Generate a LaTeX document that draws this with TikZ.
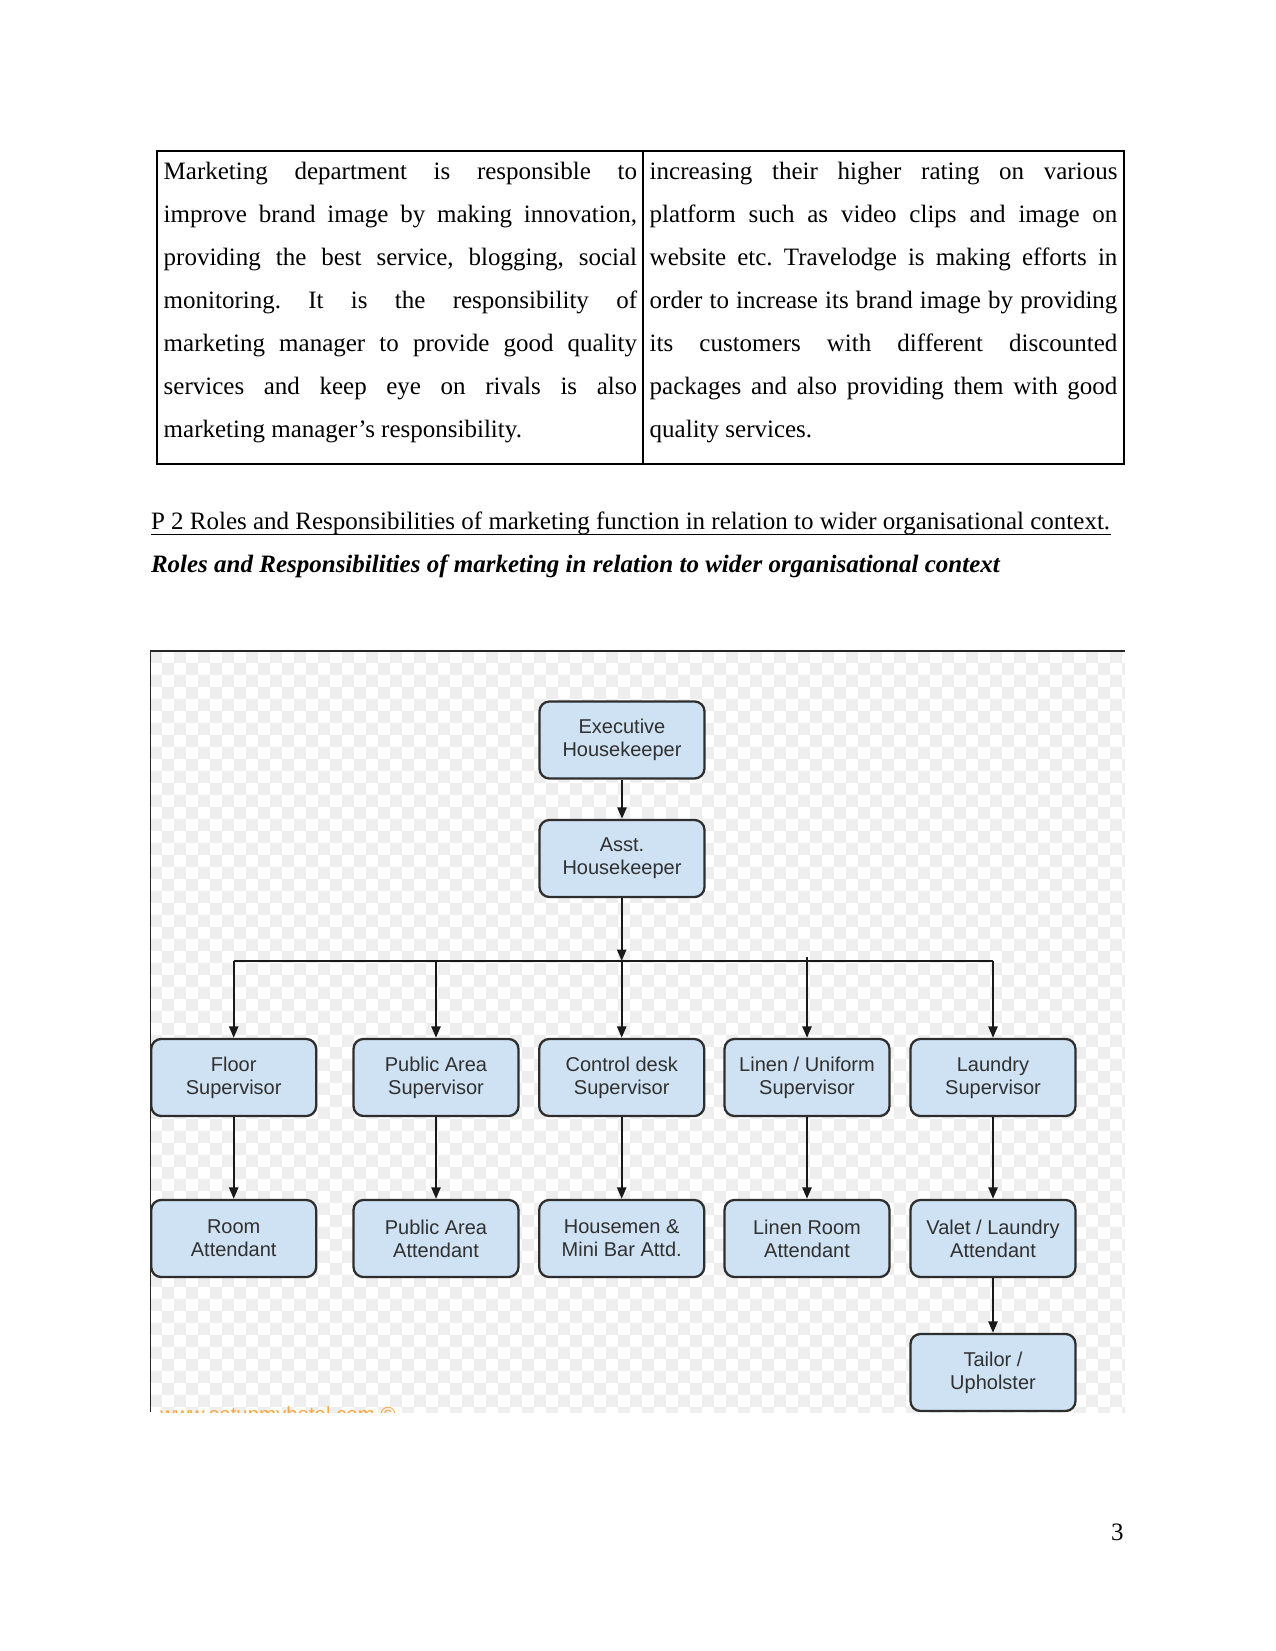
\documentclass[tikz,border=0pt]{standalone}
\usepackage{fontspec}
\setmainfont{Liberation Serif}
\newfontfamily\boxfont{Liberation Sans}
\usetikzlibrary{arrows.meta}
\definecolor{boxfill}{HTML}{CFE2F3}
\definecolor{boxline}{HTML}{2E2E2E}
\definecolor{boxtext}{HTML}{303030}
\definecolor{wmark}{HTML}{F5A742}
\definecolor{chk}{HTML}{EEEEEE}
\frenchspacing
\newcommand\jline[5]{\node[txt,anchor=base west] (#1) at (#2,#3) {\makebox[#4][s]{#5}};}
\newcommand\pline[4]{\node[txt,anchor=base west] (#1) at (#2,#3) {#4};}
\begin{document}
\begin{tikzpicture}[x=0.48pt,y=-0.48pt,
  txt/.style={inner sep=0pt,font=\fontsize{12}{14}\selectfont},
  hbox/.style={draw=boxline,fill=boxfill,rounded corners=4.8pt,line width=1.1pt,
    minimum width=79.2pt,minimum height=37pt,inner sep=0pt,align=center,
    text=boxtext,font=\boxfont\fontsize{9.6}{10.9}\selectfont},
  conn/.style={draw=black!90,line width=0.95pt},
  arr/.style={conn,-{Triangle[length=5.5pt,width=4.4pt]}},
  tbl/.style={draw=black,line width=0.55pt}]
\useasboundingbox (0,0) rectangle (1275,1651);
% ---------- table ----------
\draw[tbl] (157,151) rectangle (1124,464);
\draw[tbl] (643,151) -- (643,464);
\jline{L1}{163.3}{179.3}{227.2pt}{Marketing department is responsible to}
\jline{L2}{163.3}{222.4}{227.2pt}{improve brand image by making innovation,}
\jline{L3}{163.3}{265.4}{227.2pt}{providing the best service, blogging, social}
\jline{L4}{163.3}{308.5}{227.2pt}{monitoring. It is the responsibility of}
\jline{L5}{163.3}{351.6}{227.2pt}{marketing manager to provide good quality}
\jline{L6}{163.3}{394.7}{227.2pt}{services and keep eye on rivals is also}
\pline{L7}{163.3}{437.7}{marketing manager’s responsibility.}
\jline{R1}{649.3}{179.3}{224.5pt}{increasing their higher rating on various}
\jline{R2}{649.3}{222.4}{224.5pt}{platform such as video clips and image on}
\jline{R3}{649.3}{265.4}{224.5pt}{website etc. Travelodge is making efforts in}
\jline{R4}{649.3}{308.5}{224.5pt}{order to increase its brand image by providing}
\jline{R5}{649.3}{351.6}{224.5pt}{its customers with different discounted}
\jline{R6}{649.3}{394.7}{224.5pt}{packages and also providing them with good}
\pline{R7}{649.3}{437.7}{quality services.}
% ---------- headings ----------
\node[txt,anchor=base west] (h1) at (150.6,529.5) {P 2 Roles and Responsibilities of marketing function in relation to wider organisational context.};
\draw[line width=0.5pt] ([yshift=-2.2pt]h1.base west) -- ([yshift=-2.2pt]h1.base east);
\node[txt,anchor=base west,font=\fontsize{12}{14}\selectfont\bfseries\itshape] (h2) at (150.6,572.5) {Roles and Responsibilities of marketing in relation to wider organisational context};
% ---------- image background ----------
\begin{scope}
\clip (150,651) rectangle (1125,1412);
\fill[white] (150,651) rectangle (1125,1412);
\foreach \i in {0,2,...,82}{
  \foreach \j in {0,2,...,64}{
    \fill[chk] (150+12*\i,651+12*\j) rectangle ++(12,12);
    \fill[chk] (162+12*\i,663+12*\j) rectangle ++(12,12);
  }
}
\node[anchor=base west,inner sep=0pt,text=wmark,font=\boxfont\fontsize{9.8}{11}\selectfont] (wm) at (160,1421) {www.setupmyhotel.com ©};
\end{scope}
\draw[black!85,line width=1pt] (150,651) -- (1125,651);
\draw[black!85,line width=0.8pt] (150.5,651) -- (150.5,1412);
% ---------- chart ----------
\node[hbox] (exec) at (622,740) {Executive\\Housekeeper};
\node[hbox] (asst) at (622,858.5) {Asst.\\Housekeeper};
\node[hbox] (floor) at (233.7,1077.5) {Floor\\Supervisor};
\node[hbox] (pubs) at (436,1077.5) {Public Area\\Supervisor};
\node[hbox] (ctrl) at (621.7,1077.5) {Control desk\\Supervisor};
\node[hbox] (linen) at (807,1077.5) {Linen / Uniform\\Supervisor};
\node[hbox] (laund) at (993,1077.5) {Laundry\\Supervisor};
\node[hbox] (room) at (233.7,1238.5) {Room\\Attendant};
\node[hbox] (puba) at (436,1238.5) {Public Area\\Attendant};
\node[hbox] (house) at (621.7,1238.5) {Housemen \&\\Mini Bar Attd.};
\node[hbox] (linr) at (807,1238.5) {Linen Room\\Attendant};
\node[hbox] (valet) at (993,1238.5) {Valet / Laundry\\Attendant};
\node[hbox] (tailor) at (993,1372.5) {Tailor /\\Upholster};
\coordinate (bus) at (621.7,961);
\coordinate (busL) at (233.7,961);
\coordinate (busP) at (436,961);
\coordinate (busN) at (807,957);
\coordinate (busR) at (993,961);
\draw[arr] (exec) -- (asst);
\draw[arr] (asst.south -| bus) -- (bus);
\draw[conn] (busL) -- (busR);
\draw[arr] (busL) -- (floor);
\draw[arr] (busP) -- (pubs);
\draw[arr] (bus) -- (ctrl);
\draw[arr] (busN) -- (linen);
\draw[arr] (busR) -- (laund);
\draw[arr] (floor) -- (room);
\draw[arr] (pubs) -- (puba);
\draw[arr] (ctrl) -- (house);
\draw[arr] (linen) -- (linr);
\draw[arr] (laund) -- (valet);
\draw[arr] (valet) -- (tailor);
% ---------- page number ----------
\node[txt,anchor=base east] (pg) at (1124,1540) {3};
\end{tikzpicture}
\end{document}
